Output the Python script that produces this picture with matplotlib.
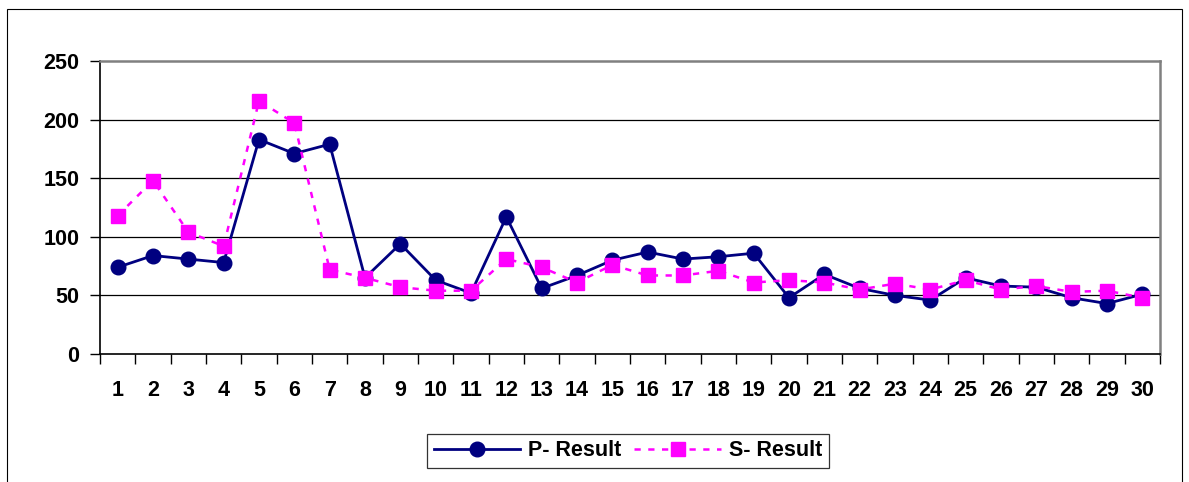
import matplotlib.pyplot as plt
from matplotlib.patches import Rectangle

plt.rcParams['font.family'] = ['Liberation Sans', 'DejaVu Sans']

categories = [str(i) for i in range(1, 31)]
p_result = [74, 84, 81, 78, 183, 171, 179, 65, 94, 63,
            52, 117, 56, 67, 80, 87, 81, 83, 86, 48,
            68, 56, 50, 46, 65, 58, 57, 48, 43, 51]
s_result = [118, 148, 104, 92, 216, 197, 72, 65, 57, 54,
            54, 81, 74, 61, 76, 67, 67, 71, 61, 63,
            61, 55, 60, 55, 63, 55, 58, 53, 54, 48]
y_ticks = [0, 50, 100, 150, 200, 250]

W, H = 1189, 482
fig = plt.figure(figsize=(W / 100, H / 100), dpi=100)
ax = fig.add_axes([100 / W, 1 - 354 / H, 1060 / W, 293 / H])

# outer chart border
fig.patches.append(Rectangle((7 / W, -0.05), 1175 / W, 1 - 9 / H + 0.05,
                             transform=fig.transFigure, fill=False,
                             edgecolor='black', linewidth=0.8))

x = list(range(len(categories)))
ax.plot(x, p_result, color='#000080', linewidth=2.0, marker='o',
        markersize=10.5, markerfacecolor='#000080', markeredgecolor='#000080',
        label='P- Result', zorder=3)
ax.plot(x, s_result, color='#FF00FF', linewidth=1.8, linestyle=(0, (2.5, 3)),
        marker='s', markersize=10.5, markerfacecolor='#FF00FF',
        markeredgecolor='#FF00FF', label='S- Result', zorder=4)

ax.set_xlim(-0.5, len(categories) - 0.5)
ax.set_ylim(0, 250)
ax.set_yticks(y_ticks)
ax.set_yticklabels([str(v) for v in y_ticks], fontsize=15.5, fontweight='bold')
ax.set_xticks(x)
ax.set_xticklabels(categories, fontsize=15.5, fontweight='bold')
ax.set_xticks([i - 0.5 for i in range(len(categories) + 1)], minor=True)

ax.tick_params(axis='x', which='major', length=0, pad=19)
ax.tick_params(axis='x', which='minor', length=7, width=1, direction='out')
ax.tick_params(axis='y', length=7, width=1, direction='out', pad=8)

for v in y_ticks[1:-1]:
    ax.axhline(v, color='black', linewidth=0.9, zorder=1)

ax.spines['left'].set_color('black')
ax.spines['bottom'].set_color('black')
ax.spines['left'].set_linewidth(1.2)
ax.spines['bottom'].set_linewidth(1.2)
ax.spines['top'].set_color('#808080')
ax.spines['right'].set_color('#808080')
ax.spines['top'].set_linewidth(1.8)
ax.spines['right'].set_linewidth(1.8)

leg = ax.legend(loc='center', bbox_to_anchor=(628 / W, 1 - 451 / H),
                bbox_transform=fig.transFigure, ncol=2, frameon=True,
                fancybox=False, prop={'size': 15.5, 'weight': 'bold'},
                handlelength=4.0, columnspacing=0.6, handletextpad=0.4,
                borderpad=0.3)
leg.get_frame().set_edgecolor('black')
leg.get_frame().set_linewidth(0.9)

fig.savefig('out.png', dpi=100)
